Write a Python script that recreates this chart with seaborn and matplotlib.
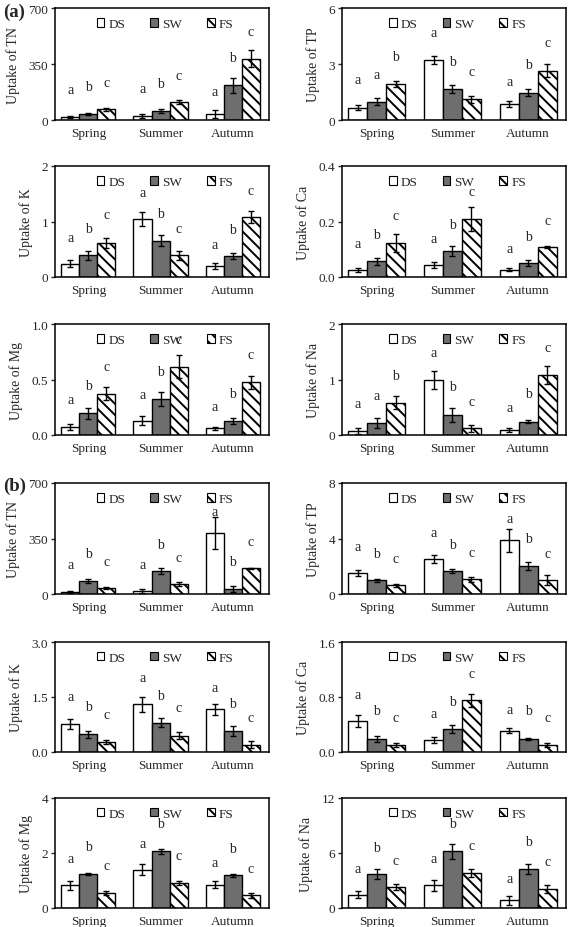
import glob
import numpy as np
import pandas as pd
import matplotlib
matplotlib.use("Agg")
import matplotlib.pyplot as plt
import matplotlib.patches as mpatches
from matplotlib import font_manager as fm
import seaborn as sns

seasons = ["Spring", "Summer", "Autumn"]
treatments = ["DS", "SW", "FS"]

# ---- data: rows are DS, SW, FS; columns Spring, Summer, Autumn ----
a_tn_mean = [[19, 25, 40], [40, 58, 217], [67, 112, 383]]
a_tn_err = [[8, 12, 25], [6, 12, 46], [10, 15, 54]]
a_tn_let = [["a", "a", "a"], ["b", "b", "b"], ["c", "c", "c"]]
a_tn_lety = [[192, 196, 175], [208, 229, 388], [237, 279, 554]]

a_tp_mean = [[0.66, 3.21, 0.86], [0.99, 1.67, 1.47], [1.94, 1.11, 2.64]]
a_tp_err = [[0.14, 0.2, 0.17], [0.17, 0.2, 0.2], [0.15, 0.2, 0.36]]
a_tp_let = [["a", "a", "a"], ["a", "b", "b"], ["b", "c", "c"]]
a_tp_lety = [[2.15, 4.67, 2.05], [2.46, 3.14, 2.96], [3.41, 2.59, 4.13]]

a_k_mean = [[0.24, 1.05, 0.20], [0.39, 0.65, 0.38], [0.62, 0.39, 1.08]]
a_k_err = [[0.06, 0.13, 0.05], [0.08, 0.10, 0.06], [0.09, 0.08, 0.11]]
a_k_let = [["a", "a", "a"], ["b", "b", "b"], ["c", "c", "c"]]
a_k_lety = [[0.72, 1.53, 0.59], [0.88, 1.15, 0.86], [1.12, 0.88, 1.56]]

a_ca_mean = [[0.025, 0.043, 0.026], [0.056, 0.092, 0.051], [0.123, 0.209, 0.107]]
a_ca_err = [[0.007, 0.012, 0.006], [0.012, 0.018, 0.010], [0.033, 0.045, 0.003]]
a_ca_let = [["a", "a", "a"], ["b", "b", "b"], ["c", "c", "c"]]
a_ca_lety = [[0.121, 0.139, 0.104], [0.152, 0.190, 0.147], [0.222, 0.307, 0.204]]

a_mg_mean = [[0.072, 0.127, 0.060], [0.196, 0.322, 0.124], [0.373, 0.617, 0.473]]
a_mg_err = [[0.03, 0.04, 0.015], [0.05, 0.065, 0.025], [0.055, 0.10, 0.055]]
a_mg_let = [["a", "a", "a"], ["b", "b", "b"], ["c", "c", "c"]]
a_mg_lety = [[0.316, 0.367, 0.256], [0.443, 0.575, 0.373], [0.614, 0.864, 0.723]]

a_na_mean = [[0.072, 0.99, 0.09], [0.22, 0.36, 0.24], [0.58, 0.12, 1.08]]
a_na_err = [[0.05, 0.16, 0.03], [0.09, 0.13, 0.03], [0.12, 0.06, 0.17]]
a_na_let = [["a", "a", "a"], ["a", "b", "b"], ["b", "c", "c"]]
a_na_lety = [[0.57, 1.48, 0.49], [0.72, 0.87, 0.75], [1.08, 0.61, 1.58]]

b_tn_mean = [[13, 19, 384], [84, 145, 31], [40, 61, 161]]
b_tn_err = [[5, 10, 100], [12, 18, 18], [6, 12, 6]]
b_tn_let = [["a", "a", "a"], ["b", "b", "b"], ["c", "c", "c"]]
b_tn_lety = [[184, 184, 520], [258, 314, 205], [207, 233, 331]]

b_tp_mean = [[1.51, 2.51, 3.86], [0.98, 1.65, 2.01], [0.62, 1.05, 1.00]]
b_tp_err = [[0.2, 0.3, 0.8], [0.1, 0.15, 0.3], [0.12, 0.15, 0.35]]
b_tp_let = [["a", "a", "a"], ["b", "b", "b"], ["c", "c", "c"]]
b_tp_lety = [[3.43, 4.46, 5.46], [2.95, 3.57, 3.98], [2.59, 2.97, 2.95]]

b_k_mean = [[0.77, 1.30, 1.16], [0.48, 0.80, 0.57], [0.27, 0.45, 0.20]]
b_k_err = [[0.13, 0.2, 0.16], [0.1, 0.13, 0.13], [0.06, 0.09, 0.1]]
b_k_let = [["a", "a", "a"], ["b", "b", "b"], ["c", "c", "c"]]
b_k_lety = [[1.51, 2.03, 1.75], [1.24, 1.55, 1.32], [1.01, 1.20, 0.95]]

b_ca_mean = [[0.45, 0.17, 0.31], [0.19, 0.33, 0.19], [0.10, 0.75, 0.10]]
b_ca_err = [[0.09, 0.045, 0.04], [0.04, 0.06, 0.02], [0.03, 0.09, 0.03]]
b_ca_let = [["a", "a", "a"], ["b", "b", "b"], ["c", "c", "c"]]
b_ca_lety = [[0.83, 0.56, 0.62], [0.60, 0.73, 0.60], [0.50, 1.14, 0.50]]

b_mg_mean = [[0.82, 1.39, 0.85], [1.24, 2.06, 1.19], [0.55, 0.92, 0.46]]
b_mg_err = [[0.15, 0.2, 0.13], [0.05, 0.08, 0.06], [0.07, 0.08, 0.1]]
b_mg_let = [["a", "a", "a"], ["b", "b", "b"], ["c", "c", "c"]]
b_mg_lety = [[1.79, 2.36, 1.64], [2.22, 3.07, 2.18], [1.53, 1.92, 1.43]]

b_na_mean = [[1.45, 2.47, 0.84], [3.71, 6.18, 4.25], [2.29, 3.85, 2.11]]
b_na_err = [[0.4, 0.6, 0.5], [0.5, 0.8, 0.5], [0.3, 0.45, 0.45]]
b_na_let = [["a", "a", "a"], ["b", "b", "b"], ["c", "c", "c"]]
b_na_lety = [[4.36, 5.38, 3.27], [6.65, 9.20, 7.20], [5.20, 6.84, 5.02]]

panels = [
    ("TN", 700, [0, 350, 700], ["0", "350", "700"], a_tn_mean, a_tn_err, a_tn_let, a_tn_lety),
    ("TP", 6, [0, 3, 6], ["0", "3", "6"], a_tp_mean, a_tp_err, a_tp_let, a_tp_lety),
    ("K", 2, [0, 1, 2], ["0", "1", "2"], a_k_mean, a_k_err, a_k_let, a_k_lety),
    ("Ca", 0.4, [0, 0.2, 0.4], ["0.0", "0.2", "0.4"], a_ca_mean, a_ca_err, a_ca_let, a_ca_lety),
    ("Mg", 1.0, [0, 0.5, 1.0], ["0.0", "0.5", "1.0"], a_mg_mean, a_mg_err, a_mg_let, a_mg_lety),
    ("Na", 2, [0, 1, 2], ["0", "1", "2"], a_na_mean, a_na_err, a_na_let, a_na_lety),
    ("TN", 700, [0, 350, 700], ["0", "350", "700"], b_tn_mean, b_tn_err, b_tn_let, b_tn_lety),
    ("TP", 8, [0, 4, 8], ["0", "4", "8"], b_tp_mean, b_tp_err, b_tp_let, b_tp_lety),
    ("K", 3, [0, 1.5, 3.0], ["0.0", "1.5", "3.0"], b_k_mean, b_k_err, b_k_let, b_k_lety),
    ("Ca", 1.6, [0, 0.8, 1.6], ["0.0", "0.8", "1.6"], b_ca_mean, b_ca_err, b_ca_let, b_ca_lety),
    ("Mg", 4, [0, 2, 4], ["0", "2", "4"], b_mg_mean, b_mg_err, b_mg_let, b_mg_lety),
    ("Na", 12, [0, 6, 12], ["0", "6", "12"], b_na_mean, b_na_err, b_na_let, b_na_lety),
]

# ---- fonts: find a Times-like serif ----
for pat in ["/usr/share/fonts/**/LiberationSerif*.ttf", "/usr/share/fonts/**/Liberation*Serif*.ttf",
            "/usr/local/share/fonts/**/LiberationSerif*.ttf", "/usr/share/fonts/**/liberation*/*Serif*.ttf"]:
    for f in glob.glob(pat, recursive=True):
        try:
            fm.fontManager.addfont(f)
        except Exception:
            pass
avail = {f.name for f in fm.fontManager.ttflist}
serif_name = next((n for n in ["Liberation Serif", "Times New Roman", "Nimbus Roman",
                               "TeX Gyre Termes", "DejaVu Serif"] if n in avail), "DejaVu Serif")

# ---- style ----
sns.set_theme(style="ticks")
plt.rcParams["font.family"] = [serif_name, "DejaVu Serif"]
plt.rcParams["hatch.linewidth"] = 1.4
plt.rcParams["axes.linewidth"] = 1.1

W, H = 568, 928
fig = plt.figure(figsize=(W / 100, H / 100), dpi=100)

row_tb = [(9, 121), (167, 278), (325, 436), (484, 595), (643, 753), (799, 909)]
col_lr = [(55, 269), (342, 566)]

palette = {"DS": "white", "SW": "#6e6e6e", "FS": "white"}

for idx, (elem, ymax, yt, ytl, mean, err, let, lety) in enumerate(panels):
    r, c = divmod(idx, 2)
    top, bot = row_tb[r]
    left, right = col_lr[c]
    ax = fig.add_axes([left / W, 1 - bot / H, (right - left) / W, (bot - top) / H])

    df = pd.DataFrame(
        [{"season": s, "treatment": t, "value": mean[ti][si]}
         for ti, t in enumerate(treatments) for si, s in enumerate(seasons)]
    )
    sns.barplot(data=df, x="season", y="value", hue="treatment", order=seasons,
                hue_order=treatments, palette=palette, edgecolor="black",
                linewidth=1.0, errorbar=None, width=0.75, saturation=1,
                legend=False, ax=ax)

    bar_conts = list(ax.containers)
    for ti, cont in enumerate(bar_conts):
        xs = [b.get_x() + b.get_width() / 2 for b in cont]
        hs = [b.get_height() for b in cont]
        if treatments[ti] == "FS":
            for b in cont:
                b.set_hatch("\\\\\\")
        ax.errorbar(xs, hs, yerr=err[ti], fmt="none", ecolor="black",
                    elinewidth=1.0, capsize=2.5, capthick=1.0, zorder=5)
        for si, x in enumerate(xs):
            ax.text(x, lety[ti][si], let[ti][si], ha="center", va="center",
                    fontsize=10)

    ax.set_ylim(0, ymax)
    ax.set_xlim(-0.46, 2.5)
    ax.set_yticks(yt)
    ax.set_yticklabels(ytl)
    ax.set_xlabel("")
    ax.set_ylabel(f"Uptake of {elem}", fontsize=10, labelpad=6)
    ax.tick_params(axis="x", length=0, labelsize=9.5, pad=5)
    ax.tick_params(axis="y", length=3, width=1, labelsize=9.5, pad=2, direction="out")
    for sp in ax.spines.values():
        sp.set_visible(True)
        sp.set_linewidth(1.1)
        sp.set_color("black")

    handles = [
        mpatches.Patch(facecolor="white", edgecolor="black", linewidth=0.8, label="DS"),
        mpatches.Patch(facecolor="#6e6e6e", edgecolor="black", linewidth=0.8, label="SW"),
        mpatches.Patch(facecolor="white", edgecolor="black", linewidth=0.8, hatch="\\\\\\", label="FS"),
    ]
    ax.legend(handles=handles, loc="center", bbox_to_anchor=(0.515, 0.855), ncol=3,
              frameon=False, fontsize=9.5, handlelength=0.6, handleheight=0.6,
              handletextpad=0.3, columnspacing=1.9, borderpad=0)

fig.text(3 / W, 1 - 12 / H, "(a)", fontsize=13.5, fontweight="bold", va="center", ha="left")
fig.text(3 / W, 1 - 486 / H, "(b)", fontsize=13.5, fontweight="bold", va="center", ha="left")

fig.savefig("out.png", dpi=100)
